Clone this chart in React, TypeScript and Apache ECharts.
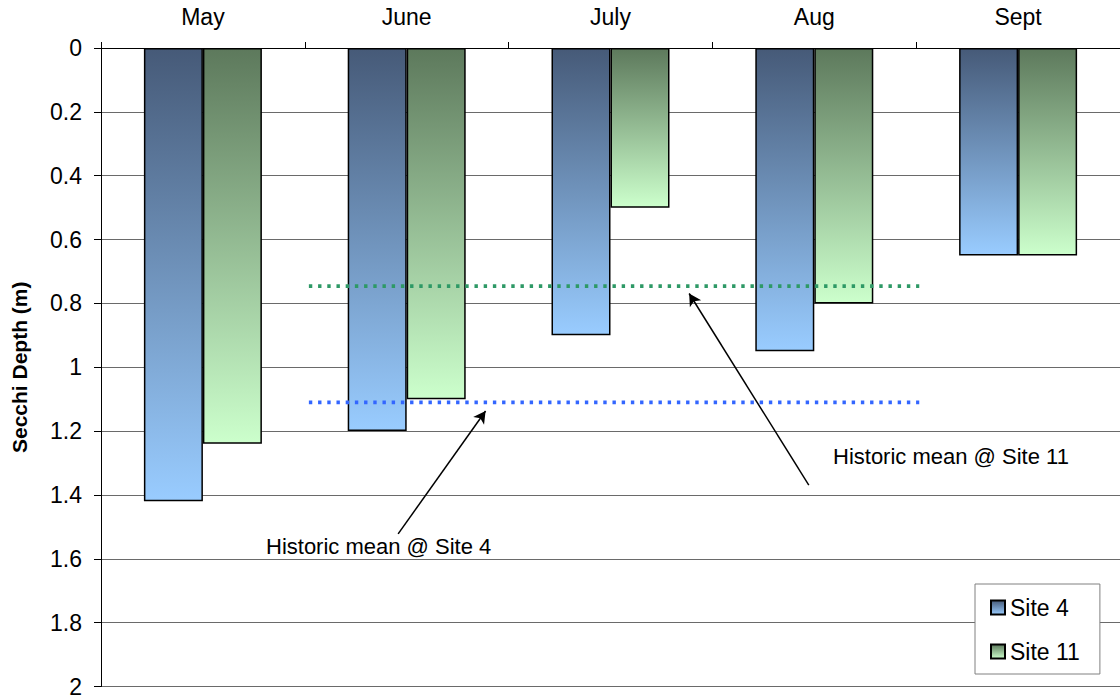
import React, { useEffect, useRef } from "react";
import * as echarts from "echarts";

const months = ["May", "June", "July", "Aug", "Sept"];
const site4 = [1.42, 1.2, 0.9, 0.95, 0.65];
const site11 = [1.24, 1.1, 0.5, 0.8, 0.65];
const historicSite4 = 1.11;
const historicSite11 = 0.746;
// span of the historic mean lines, in category units (0..5) on a hidden value axis
const historicSpan = [1.02, 4.015];
// annotation arrows: [tailX, tailY, tipX, tipY] in (category units, depth m)
const arrowSite11 = [3.473, 1.369, 2.886, 0.769];
const arrowSite4 = [1.458, 1.522, 1.887, 1.137];

const FONT = "'Liberation Sans', Arial, sans-serif";

function grad(top: string, bottom: string) {
  return new echarts.graphic.LinearGradient(0, 0, 0, 1, [
    { offset: 0, color: top },
    { offset: 1, color: bottom },
  ]);
}

export default function App() {
  const ref = useRef<HTMLDivElement>(null);
  useEffect(() => {
    if (!ref.current) return;
    const chart = echarts.init(ref.current, null, { renderer: "svg" });
    const option: any = {
      animation: false,
      backgroundColor: "#ffffff",
      textStyle: { fontFamily: FONT },
      grid: { left: 101, top: 48, width: 1029.5, height: 641 },
      legend: {
        orient: "vertical",
        left: 975,
        top: 584,
        padding: [12, 20, 11, 15],
        itemGap: 21,
        itemWidth: 14,
        itemHeight: 14,
        itemTextGap: 8,
        borderColor: "#808080",
        borderWidth: 1,
        backgroundColor: "#ffffff",
        data: [
          { name: "Site 4", icon: "rect" },
          { name: "Site 11", icon: "rect" },
        ],
        textStyle: { fontSize: 23, color: "#000", fontFamily: FONT, lineHeight: 22 },
      },
      xAxis: [
        {
          type: "category",
          position: "top",
          data: months,
          boundaryGap: true,
          axisLine: { lineStyle: { color: "#000", width: 1 } },
          axisTick: { show: true, length: 6, lineStyle: { color: "#000" } },
          axisLabel: { fontSize: 23, color: "#000", margin: 20, fontFamily: FONT },
          splitLine: { show: false },
        },
        {
          type: "value",
          min: 0,
          max: 5,
          show: false,
          splitLine: { show: false },
        },
      ],
      yAxis: {
        type: "value",
        inverse: true,
        min: 0,
        max: 2,
        interval: 0.2,
        name: "Secchi Depth (m)",
        nameLocation: "middle",
        nameGap: 71,
        nameTextStyle: { fontSize: 21, fontWeight: "bold", color: "#000", fontFamily: FONT },
        axisLine: { show: true, lineStyle: { color: "#000", width: 1 } },
        axisTick: { show: true, length: 7, lineStyle: { color: "#000" } },
        axisLabel: {
          fontSize: 23,
          color: "#000",
          margin: 19,
          fontFamily: FONT,
          formatter: (v: number) => String(Math.round(v * 10) / 10),
        },
        splitLine: { show: true, lineStyle: { color: "#6a6a6a", width: 1 } },
      },
      series: [
        {
          name: "Site 4",
          type: "bar",
          data: site4,
          barWidth: 59,
          barGap: "0%",
          itemStyle: {
            color: grad("#465a78", "#99ccff"),
            borderColor: "#000",
            borderWidth: 1.5,
          },
        },
        {
          name: "Site 11",
          type: "bar",
          data: site11,
          barWidth: 59,
          barGap: "0%",
          itemStyle: {
            color: grad("#5d795c", "#ccffcc"),
            borderColor: "#000",
            borderWidth: 1.5,
          },
        },
        {
          name: "Historic Site 11",
          type: "line",
          xAxisIndex: 1,
          data: [
            [historicSpan[0], historicSite11],
            [historicSpan[1], historicSite11],
          ],
          symbol: "none",
          lineStyle: { color: "#2e9966", width: 3.6, type: [3.4, 5.8] },
          z: 5,
        },
        {
          name: "Historic Site 4",
          type: "line",
          xAxisIndex: 1,
          data: [
            [historicSpan[0], historicSite4],
            [historicSpan[1], historicSite4],
          ],
          symbol: "none",
          lineStyle: { color: "#3366ff", width: 3.6, type: [3.4, 5.8] },
          z: 5,
          markLine: {
            silent: true,
            symbol: ["none", "arrow"],
            symbolSize: [10, 12],
            label: { show: false },
            lineStyle: { color: "#000", width: 1.5, type: "solid" },
            data: [
              [
                { coord: [arrowSite11[0], arrowSite11[1]] },
                { coord: [arrowSite11[2], arrowSite11[3]] },
              ],
              [
                { coord: [arrowSite4[0], arrowSite4[1]] },
                { coord: [arrowSite4[2], arrowSite4[3]] },
              ],
            ],
          },
        },
      ],
      graphic: [
        {
          type: "text",
          left: 833,
          top: 445,
          style: { text: "Historic mean @ Site 11", fontSize: 22, fill: "#000", fontFamily: FONT },
        },
        {
          type: "text",
          left: 266,
          top: 535,
          style: { text: "Historic mean @ Site 4", fontSize: 22, fill: "#000", fontFamily: FONT },
        },
      ],
    };
    chart.setOption(option);
    return () => chart.dispose();
  }, []);
  return (
    <div
      ref={ref}
      style={{ position: "fixed", left: 0, top: 0, width: 1120, height: 698, background: "#fff" }}
    />
  );
}
